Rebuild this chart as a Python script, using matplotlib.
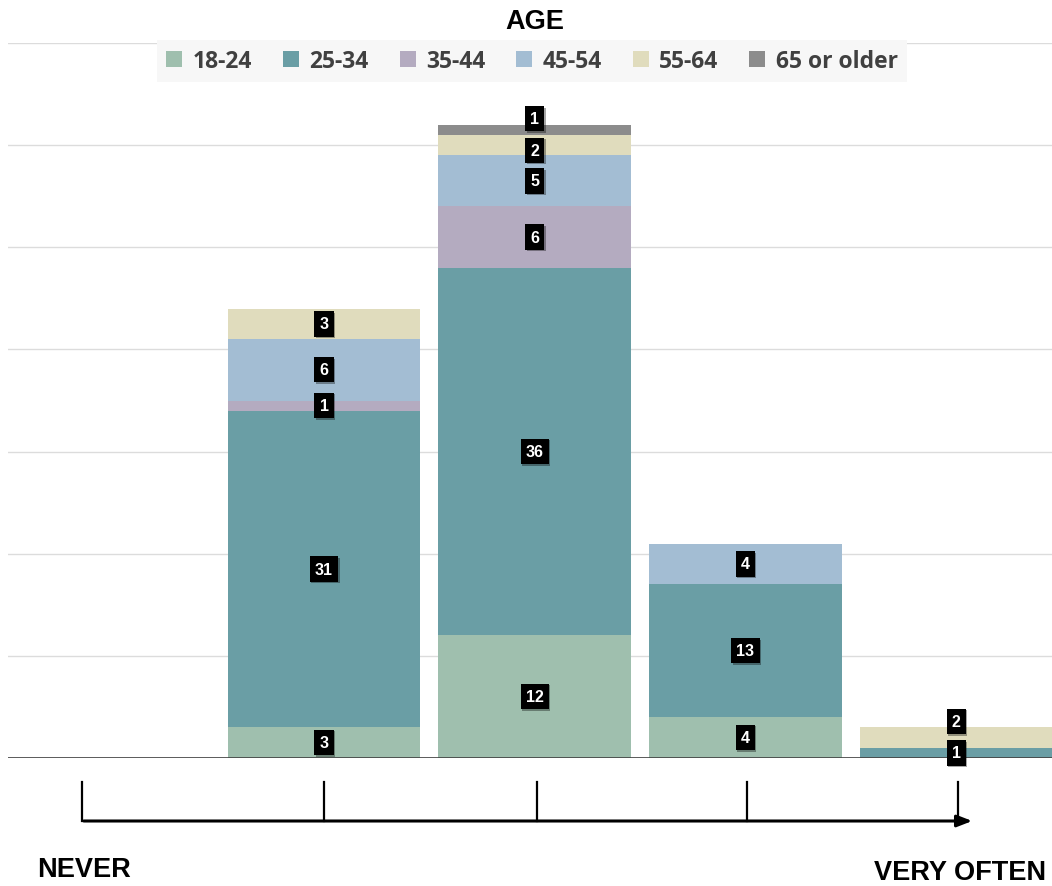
import matplotlib.pyplot as plt
import matplotlib.patheffects as pe
from matplotlib.lines import Line2D
import numpy as np

plt.rcParams['font.family'] = ['Liberation Sans', 'DejaVu Sans']

# frequency levels (labels not shown on the chart)
levels = ["Never", "Rarely", "Sometimes", "Often", "Very often"]
age_groups = ["18-24", "25-34", "35-44", "45-54", "55-64", "65 or older"]

age_18_24 = [0, 3, 12, 4, 0]
age_25_34 = [0, 31, 36, 13, 1]
age_35_44 = [0, 1, 6, 0, 0]
age_45_54 = [0, 6, 5, 4, 0]
age_55_64 = [0, 3, 2, 0, 2]
age_65_up = [0, 0, 1, 0, 0]

series = [age_18_24, age_25_34, age_35_44, age_45_54, age_55_64, age_65_up]
colors = ["#9fbfae", "#6a9ea5", "#b4abc0", "#a3bdd3", "#e0dcbd", "#8c8c8c"]

# label nudges in pixels (series index, level index) -> dy, like excel moved them
nudges = {(4, 2): -5, (5, 2): 11, (4, 4): 16}

W, H = 1052, 887
fig = plt.figure(figsize=(W / 100, H / 100), dpi=100)
ax = fig.add_axes([8 / W, (H - 759) / H, 1 - 8 / W, (759 - 44) / H])

x = np.arange(len(levels))
bottom = np.zeros(len(levels))
for i, (vals, col) in enumerate(zip(series, colors)):
    vals = np.array(vals, dtype=float)
    ax.bar(x, vals, width=0.915, bottom=bottom, color=col, label=age_groups[i], zorder=2)
    for j, v in enumerate(vals):
        if v <= 0:
            continue
        dy = nudges.get((i, j), 0) * 0.72
        ax.annotate(str(int(v)), (x[j], bottom[j] + v / 2), xytext=(0, dy),
                    textcoords="offset points", ha="center", va="center",
                    color="white", fontsize=11.5, fontweight="bold", zorder=5,
                    bbox=dict(boxstyle="square,pad=0.32", fc="black", ec="none",
                              path_effects=[pe.SimplePatchShadow(offset=(1, -1), alpha=0.35), pe.Normal()]))
    bottom += vals

ax.set_xlim(-0.5, 4.455)
ax.set_ylim(0, 70)
ax.set_yticks(np.arange(0, 71, 10))
ax.grid(axis="y", color="#dcdcdc", lw=1, zorder=0)
ax.axhline(0, color="#404040", lw=1.2, zorder=3)
for s in ax.spines.values():
    s.set_visible(False)
ax.tick_params(left=False, bottom=False, labelleft=False, labelbottom=False)

leg = fig.legend(loc="center", bbox_to_anchor=(532 / W, 1 - 62 / H), ncol=6,
                 frameon=True, fancybox=False, handlelength=0.7, handleheight=0.7,
                 handletextpad=0.45, columnspacing=1.35, borderpad=0.4,
                 prop={"family": "Open Sans", "weight": "bold", "size": 16.5})
leg.get_frame().set_facecolor("#f7f7f7")
leg.get_frame().set_edgecolor("none")
leg.get_frame().set_alpha(1)
for t in leg.get_texts():
    t.set_color("#404040")

fig.text(535 / W, 1 - 22 / H, "AGE", ha="center", va="center", fontsize=19.5, fontweight="bold")

# frequency arrow below the chart (pixel overlay)
ov = fig.add_axes([0, 0, 1, 1], zorder=-1)
ov.set_xlim(0, W)
ov.set_ylim(H, 0)
ov.axis("off")
ov.annotate("", xy=(975, 822), xytext=(81, 822),
            arrowprops=dict(arrowstyle="-|>,head_length=0.9,head_width=0.35", color="black", lw=2.2))
for tx in [82, 324, 537, 747, 958]:
    ov.add_line(Line2D([tx, tx], [783, 822], color="black", lw=1.6))

fig.text(84 / W, 1 - 870 / H, "NEVER", ha="center", va="center", fontsize=19.5, fontweight="bold")
fig.text(960 / W, 1 - 873 / H, "VERY OFTEN", ha="center", va="center", fontsize=19.5, fontweight="bold")

fig.savefig("out.png", dpi=100)
